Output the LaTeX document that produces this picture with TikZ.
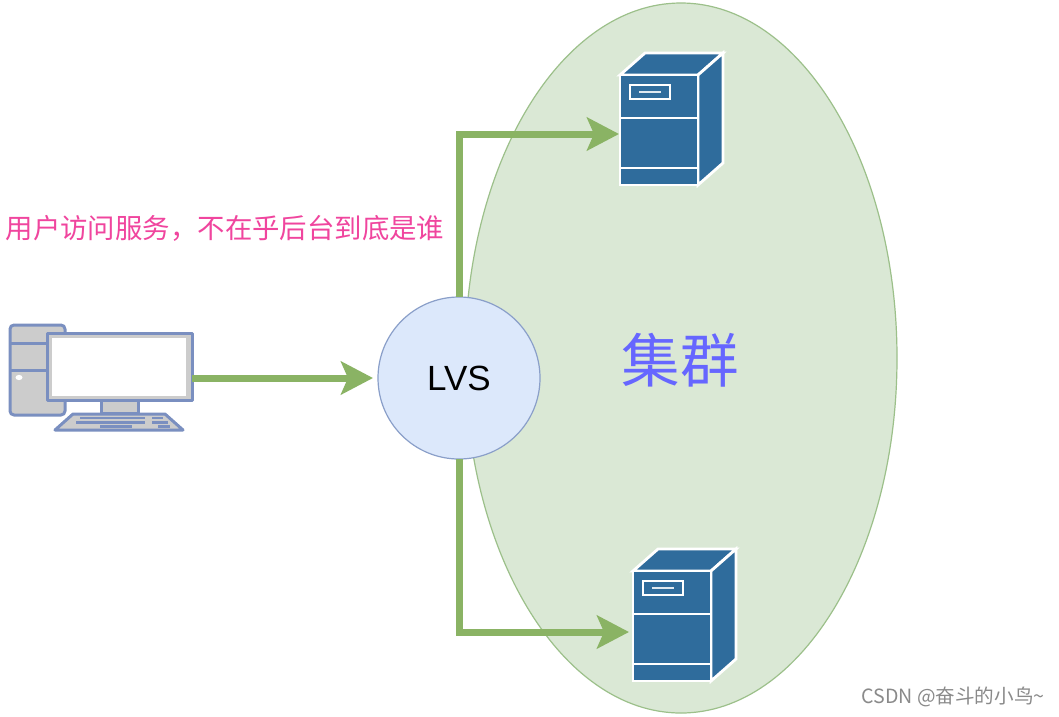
\documentclass[tikz,border=0pt]{standalone}
\usepackage{fontspec}
\setmainfont{Liberation Sans}
\newfontfamily\cjk{Noto Sans CJK SC}
\usetikzlibrary{arrows.meta}
\definecolor{gfill}{HTML}{DAE8D5}
\definecolor{gline}{HTML}{9CC08A}
\definecolor{garrow}{HTML}{8AB364}
\definecolor{bfill}{HTML}{DCE8FB}
\definecolor{bline}{HTML}{8A9FC9}
\definecolor{srv}{HTML}{2F6C9C}
\definecolor{pcline}{HTML}{7A8FC0}
\definecolor{pcfill}{HTML}{CCCCCC}
\definecolor{pinktxt}{HTML}{F0459E}
\definecolor{bluetxt}{HTML}{6666FF}
\definecolor{marktxt}{HTML}{8A8A8A}
\tikzset{
  x=1pt,y=-1pt,
  flow/.style={draw=garrow,line width=7pt,shorten >=5pt,-{Stealth[length=32pt,width=33pt,inset=7pt]}},
  srvline/.style={draw=white,line width=2.8pt,line join=miter},
  srvface/.style={fill=srv,draw=white,line width=2.8pt,line join=miter},
  pc/.style={draw=pcline,line width=3pt,fill=pcfill,line join=round},
  pcthin/.style={draw=pcline,line width=2.4pt},
  lbl/.style={inner sep=0pt,outer sep=0pt,anchor=center},
  pics/server/.style={code={
    \fill[srvface] (0,0) -- (25,-22) -- (103,-22) -- (78,0) -- cycle;
    \fill[srvface] (78,0) -- (103,-22) -- (103,88) -- (78,110) -- cycle;
    \draw[srvface] (0,0) rectangle (78,110);
    \draw[srvline] (0,43) -- (78,43);
    \draw[srvline,line width=2pt] (0,93) -- (78,93);
    \draw[srvline,line width=2.2pt] (10,10) rectangle (50,24);
    \draw[draw=white!85!srv,line width=2.2pt] (19,17) -- (41,17);
  }}
}
\begin{document}
\begin{tikzpicture}
\useasboundingbox (0,0) rectangle (1059,716);
\fill[white] (0,0) rectangle (1059,716);
\draw[draw=gline,fill=gfill,line width=1.2pt] (681,358) ellipse [x radius=216,y radius=355];

% computer
\draw[pc,rounded corners=4pt] (10,325) rectangle (65,415);
\draw[pc] (10,343) -- (47,343);
\draw[pc] (10,370) -- (47,370);
\fill[white] (19,377.5) ellipse [x radius=3.5,y radius=2.6];
\draw[pc] (101,400) rectangle (138,413);
\draw[pc] (73,414) -- (165,414) -- (183,430) -- (55,430) -- cycle;
\draw[pcthin] (80,418) -- (145,418);
\draw[pcthin] (152,418) -- (163,418);
\draw[pcthin] (76,422.5) -- (145,422.5);
\draw[pcthin] (152,422.5) -- (168,422.5);
\draw[pcthin] (100,426.5) -- (132,426.5);
\draw[pcthin] (158,426.5) -- (170,426.5);
\node[pc,rectangle,minimum width=145pt,minimum height=67pt,inner sep=0pt,outer sep=0pt] (pcbox) at (119.5,366.5) {};
\fill[white] (52,337.5) rectangle (186,395.5);

% servers
\pic at (620,75) {server};
\pic at (633,571) {server};
\node[rectangle,minimum width=78pt,minimum height=110pt,inner sep=0pt,outer sep=0pt] (s1) at (659,130) {};
\node[rectangle,minimum width=78pt,minimum height=110pt,inner sep=0pt,outer sep=0pt] (s2) at (672,626) {};

% LVS
\node[circle,draw=bline,fill=bfill,line width=1.2pt,minimum size=162pt,inner sep=0pt,outer sep=0pt,font=\fontsize{35}{38}\selectfont] (lvs) at (459,378) {LVS};

% connectors
\coordinate (c1) at (s1.west |- 0,134);
\coordinate (c2) at (s2.west |- 0,632);
\draw[flow] (pcbox.east |- lvs.west) -- (lvs.west);
\draw[flow,shorten >=1pt] (lvs.north) -- (lvs.north |- c1) -- (c1);
\draw[flow,shorten >=4pt] (lvs.south) -- (lvs.south |- c2) -- (c2);

% text
\node[lbl,text=pinktxt,font=\cjk\fontsize{27.4}{30}\selectfont] (t1) at (225,228) {用户访问服务，不在乎后台到底是谁};
\node[lbl,text=bluetxt,font=\cjk\fontsize{58.5}{62}\selectfont] (t2) at (680,360) {集群};
\node[lbl,text=marktxt,font=\cjk\fontsize{19.6}{22}\selectfont] (t3) at (953,697) {CSDN @奋斗的小鸟\textasciitilde};
\end{tikzpicture}
\end{document}
